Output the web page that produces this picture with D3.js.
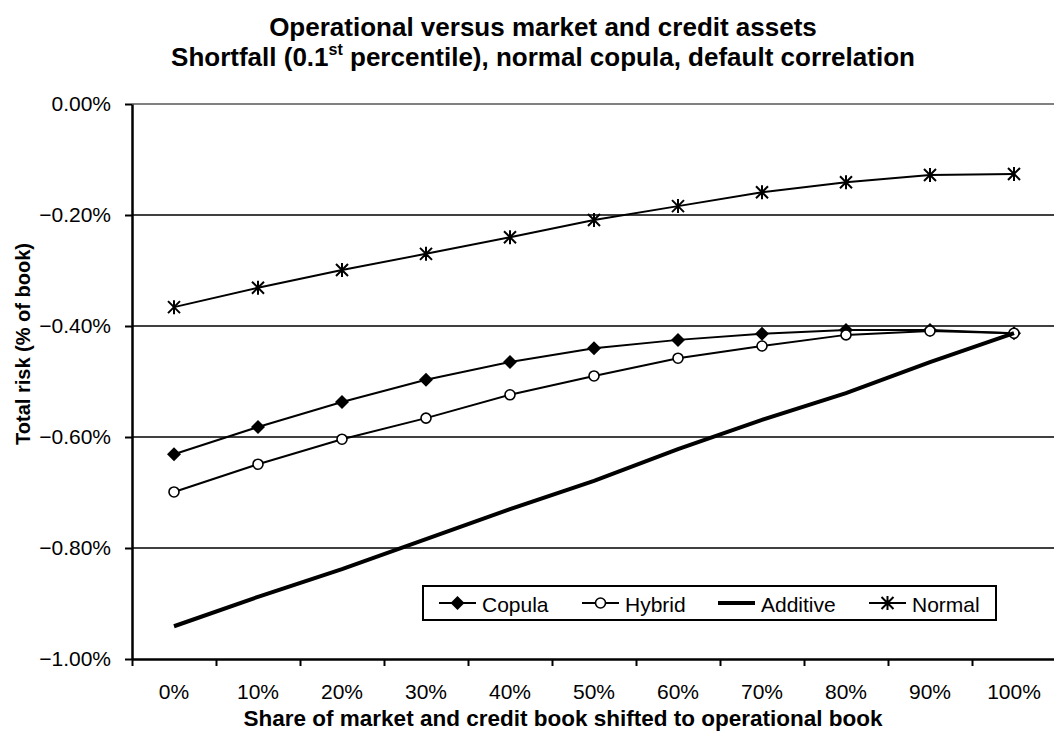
<!DOCTYPE html>
<html>
<head>
	<meta http-equiv="Content-Type" content="text/html; charset=utf-8"/>
	<title>Operational versus market and credit assets</title>
	<style>
		body { margin: 0; background: #fff; }
		svg { display: block; font-family: Arial, "Liberation Sans", sans-serif; }
		.tick text { font-size: 21px; fill: #000; }
		.legend text { font-size: 21px; }
	</style>
</head>
<body>
	<svg width="1054" height="732" id="viz"></svg>

	<script src="https://d3js.org/d3.v7.min.js"></script>
	<script>

		//Datos
		var categorias = ["0%", "10%", "20%", "30%", "40%", "50%", "60%", "70%", "80%", "90%", "100%"];
		var copula   = [-0.631, -0.582, -0.537, -0.497, -0.465, -0.440, -0.425, -0.414, -0.407, -0.407, -0.413];
		var hybrid   = [-0.699, -0.649, -0.604, -0.566, -0.524, -0.490, -0.458, -0.436, -0.416, -0.409, -0.413];
		var additive = [-0.941, -0.888, -0.838, -0.784, -0.730, -0.679, -0.622, -0.569, -0.521, -0.465, -0.413];
		var normal   = [-0.366, -0.331, -0.299, -0.270, -0.240, -0.209, -0.184, -0.159, -0.141, -0.128, -0.126];
		var yTicks = [0, -0.2, -0.4, -0.6, -0.8, -1.0];

		var series = [
			{name: "Copula", values: copula, marker: "diamond", width: 2},
			{name: "Hybrid", values: hybrid, marker: "circle", width: 2},
			{name: "Additive", values: additive, marker: "none", width: 4},
			{name: "Normal", values: normal, marker: "star", width: 2}
		];

		//Escalas
		var margin = {left: 132, top: 104},
			iwidth = 924, iheight = 555;

		var x = d3.scaleBand().domain(categorias).range([0, iwidth]);
		var xi = d3.scaleLinear().domain([0, categorias.length]).range([0, iwidth]);
		var y = d3.scaleLinear().domain([-1.0, 0]).range([iheight, 0]);

		var svg = d3.select("#viz");
		var g = svg.append("g").attr("transform", `translate(${margin.left},${margin.top})`);

		//Titulo
		var title = svg.append("text")
			.attr("text-anchor", "middle")
			.attr("font-weight", "bold")
			.attr("font-size", "26px");
		title.append("tspan").attr("x", 543).attr("y", 36).text("Operational versus market and credit assets");
		var l2 = title.append("tspan").attr("x", 543).attr("y", 66);
		l2.append("tspan").text("Shortfall (0.1");
		l2.append("tspan").attr("font-size", "16px").attr("dy", -11).text("st");
		l2.append("tspan").attr("dy", 11).text(" percentile), normal copula, default correlation");

		//Lineas de grilla
		g.selectAll(".grid")
			.data(yTicks.filter(d => d > -1.0))
			.enter().append("line")
			.attr("x1", 0).attr("x2", iwidth)
			.attr("y1", d => y(d)).attr("y2", d => y(d))
			.attr("stroke", d => d === 0 ? "#808080" : "#000")
			.attr("stroke-width", d => d === 0 ? 2 : 1.5);

		//Eje y
		g.append("g")
			.call(d3.axisLeft(y).tickValues(yTicks).tickSize(7).tickSizeOuter(0)
				.tickFormat(d => d3.format(".2f")(d) + "%"))
			.call(a => a.select(".domain").attr("stroke-width", 2.5))
			.call(a => a.selectAll(".tick line").attr("stroke-width", 2))
			.call(a => a.selectAll(".tick text").attr("x", -21));

		svg.append("text")
			.attr("transform", "translate(30,344) rotate(-90)")
			.attr("text-anchor", "middle")
			.attr("font-weight", "bold")
			.attr("font-size", "20px")
			.text("Total risk (% of book)");

		//Eje x
		g.append("g")
			.attr("transform", `translate(0,${iheight})`)
			.call(d3.axisBottom(xi).tickValues(d3.range(categorias.length + 1)).tickSize(7).tickSizeOuter(0).tickFormat(""))
			.call(a => a.select(".domain").attr("stroke-width", 2.5))
			.call(a => a.selectAll(".tick line").attr("stroke-width", 2));

		g.append("g")
			.attr("transform", `translate(0,${iheight})`)
			.call(d3.axisBottom(x).tickSize(0))
			.call(a => a.select(".domain").remove())
			.call(a => a.selectAll(".tick text").attr("y", 25).attr("dy", "0.71em"));

		svg.append("text")
			.attr("x", 563).attr("y", 726)
			.attr("text-anchor", "middle")
			.attr("font-weight", "bold")
			.attr("font-size", "22.5px")
			.text("Share of market and credit book shifted to operational book");

		//Marcadores
		function marcador(sel, tipo) {
			if (tipo === "diamond") {
				sel.append("path").attr("d", "M0,-7L7,0L0,7L-7,0Z").attr("fill", "#000");
			} else if (tipo === "circle") {
				sel.append("circle").attr("r", 5).attr("fill", "#fff").attr("stroke", "#000").attr("stroke-width", 1.6);
			} else if (tipo === "star") {
				sel.append("path").attr("d", "M-6,-6L6,6M-6,6L6,-6M0,-7L0,7").attr("stroke", "#000").attr("stroke-width", 2);
			}
		}

		//Lineas
		var linea = d3.line()
			.x((d, i) => x(categorias[i]) + x.bandwidth() / 2)
			.y(d => y(d));

		series.forEach(function(s) {
			g.append("path")
				.datum(s.values)
				.attr("fill", "none")
				.attr("stroke", "#000")
				.attr("stroke-width", s.width)
				.attr("d", linea);

			s.values.forEach(function(v, i) {
				var m = g.append("g")
					.attr("transform", `translate(${x(categorias[i]) + x.bandwidth() / 2},${y(v)})`);
				marcador(m, s.marker);
			});
		});

		//Leyenda
		var legendX = [439, 582, 718, 869];
		var legend = svg.append("g").attr("class", "legend");
		legend.append("rect")
			.attr("x", 423).attr("y", 586).attr("width", 573).attr("height", 34)
			.attr("fill", "#fff").attr("stroke", "#000").attr("stroke-width", 2);

		series.forEach(function(s, i) {
			var item = legend.append("g").attr("transform", `translate(${legendX[i]},603)`);
			item.append("line").attr("x1", 0).attr("x2", 37)
				.attr("stroke", "#000").attr("stroke-width", s.width);
			var m = item.append("g").attr("transform", "translate(18.5,0)");
			marcador(m, s.marker);
			item.append("text").attr("x", 43).attr("y", 9).text(s.name);
		});

	</script>
</body>
</html>
